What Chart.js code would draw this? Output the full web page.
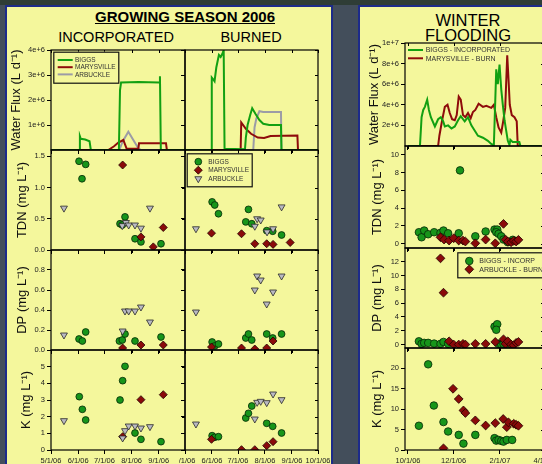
<!DOCTYPE html>
<html>
<head>
<meta charset="utf-8">
<script src="https://cdn.jsdelivr.net/npm/chart.js@4.4.1/dist/chart.umd.min.js"></script>
<style>
  body { margin: 0; width: 542px; height: 464px; overflow: hidden; position: relative;
         background: #434e5b; font-family: "Liberation Sans", Arial, sans-serif; }
  .strip { position: absolute; left: 0; top: 0; width: 542px; height: 5px; background: #2f3d36; }
  .panel { position: absolute; background: #f4f79c; border: 2px solid #1d2b8a; }
  .t { position: absolute; text-align: center; white-space: nowrap; color: #000; line-height: 1; }
  canvas { position: absolute; }
</style>
</head>
<body>
<div class="strip"></div>
<div class="panel" style="left:5px;top:5px;width:324px;height:470px"></div>
<div class="panel" style="left:358px;top:5px;width:200px;height:470px"></div>

<div class="t" style="left:85px;top:9px;width:200px;font-size:15px;font-weight:bold;text-decoration:underline">GROWING SEASON 2006</div>
<div class="t" style="left:46px;top:30px;width:140px;font-size:14.5px">INCORPORATED</div>
<div class="t" style="left:191px;top:30px;width:120px;font-size:14.5px">BURNED</div>
<div class="t" style="left:408px;top:12px;width:120px;font-size:16.5px">WINTER</div>
<div class="t" style="left:408px;top:27px;width:120px;font-size:16.5px">FLOODING</div>

<script>
// ---- axes ----
const gsMonthDays = [0, 31, 61, 92, 123, 153];          // days since 5/1/06
const gsMonthLabels = ["5/1/06", "6/1/06", "7/1/06", "8/1/06", "9/1/06", "10/1/06"];
const wfMonthDays = [0, 61, 123, 182];                  // days since 10/1/06
const wfMonthLabels = ["10/1/06", "12/1/06", "2/1/07", "4/1/07"];

const fluxTicksGS = [1e6, 2e6, 3e6, 4e6];
const tdnTicksGS = [0, 0.5, 1.0, 1.5];
const dpTicksGS = [0, 0.2, 0.4, 0.6, 0.8];
const kTicksGS = [0, 1, 2, 3, 4, 5];
const fluxTicksWF = [2e6, 4e6, 6e6, 8e6, 1e7];
const tdnTicksWF = [0, 2, 4, 6, 8, 10];
const dpTicksWF = [0, 2, 4, 6, 8, 10, 12];
const kTicksWF = [0, 5, 10, 15, 20];

// ---- growing season, incorporated: [day, value] ----
const incBiggsFlux = [[0,0],[32,0],[33,0.55e6],[34,0.45e6],[39,0.42e6],[44,0.35e6],[45.5,0],[77.5,0],[78.8,2.4e6],[80,2.7e6],[100,2.72e6],[123.5,2.7e6],[124.4,2.95e6],[125.4,0],[153,0]];
const incMarysFlux = [[0,0],[65.4,0],[72,0.15e6],[76.9,0.3e6],[82.6,0.4e6],[86.4,0.05e6],[99.7,0.05e6],[100.5,0.27e6],[131.3,0.27e6],[132.3,0],[153,0]];
const incArbFlux = [[0,0],[78,0],[82,0.35e6],[88.3,0.73e6],[94,0.4e6],[99.7,0.07e6],[103,0],[153,0]];

const incBiggsTdn = [[32,1.42],[39.6,1.37],[35.4,1.14],[84.5,0.53],[78.8,0.42],[81.4,0.40],[95.9,0.18],[102.7,0.13],[125.6,0.10]];
const incMarysTdn = [[81.8,1.36],[102.7,0.21],[116.8,0.05],[128.2,0.36]];
const incArbTdn = [[14.8,0.67],[81.4,0.39],[85.6,0.44],[88.7,0.40],[95.9,0.40],[102.7,0.35],[113,0.67]];

const incBiggsDp = [[32,0.11],[35.8,0.09],[39.6,0.18],[78.1,0.09],[81.4,0.10],[84.5,0.16],[95.9,0.09],[125.6,0.13]];
const incMarysDp = [[81.8,0.02],[102.7,0.05],[128.2,0.05]];
const incArbDp = [[14.8,0.15],[81.8,0.19],[84.5,0.39],[88.7,0.39],[95.9,0.39],[102.7,0.43],[113,0.28]];

const incBiggsK = [[32.3,3.2],[35.8,2.44],[39.6,1.8],[78.8,3.0],[81.8,4.16],[84.5,5.02],[95.9,1.02],[102.7,0.64],[125.6,0.5]];
const incMarysK = [[81.8,0.8],[102.7,3.02],[128.2,3.32]];
const incArbK = [[14.8,1.76],[81.8,0.72],[84.5,1.16],[88.7,1.44],[95.9,1.44],[102.7,1.32],[113,1.4]];

// ---- growing season, burned ----
const burBiggsFlux = [[0,0],[30,0],[30.8,2.9e6],[32,2.85e6],[34,2.75e6],[36,3.3e6],[39,3.8e6],[41,3.72e6],[43,3.85e6],[44.5,4.0e6],[45.5,0.05e6],[69,0.03e6],[70,0.5e6],[72,1.0e6],[75,1.4e6],[77.3,1.67e6],[81,1.45e6],[85.6,1.2e6],[90,1.05e6],[97,1.0e6],[110.4,1.0e6],[111,0],[153,0]];
const burMarysFlux = [[0,0],[64,0],[64.7,1.1e6],[70,0.85e6],[76,0.65e6],[83.7,0.5e6],[91,0.48e6],[98.4,0.56e6],[129.3,0.58e6],[130,0],[153,0]];
const burArbFlux = [[0,0],[78.5,0],[80,0.9e6],[82,1.25e6],[85.6,1.55e6],[90,1.52e6],[110.4,1.52e6],[111,0],[153,0]];

const burBiggsTdn = [[31.2,0.77],[34.2,0.72],[38.5,0.58],[73,0.65],[69.9,0.45],[76.8,0.42],[94,0.31],[100.9,0.30],[111.1,0.24]];
const burMarysTdn = [[30.5,0.27],[65,0.26],[80.3,0.10],[94,0.10],[101.3,0.09],[121,0.12]];
const burArbTdn = [[12.6,0.34],[83,0.50],[87.1,0.48],[80.3,0.38],[94.4,0.29],[101.3,0.34],[111.1,0.69]];

const burBiggsDp = [[31.2,0.08],[34.2,0.04],[38.5,0.06],[69.9,0.12],[73,0.16],[76.8,0.10],[94,0.16],[100.9,0.12],[111.1,0.16]];
const burMarysDp = [[30.5,0.03],[65,0.02],[80.3,0.01],[94,0.02],[101.3,0.09]];
const burArbDp = [[12.6,0.38],[83,0.74],[87.1,0.70],[80.3,0.60],[101.3,0.58],[94,0.46],[111.1,0.74]];

const burBiggsK = [[31.2,0.86],[34.2,0.76],[38.5,0.8],[69.9,1.92],[73,2.2],[76.8,2.64],[94,1.6],[100.9,1.42],[111.1,1.02]];
const burMarysK = [[30.5,0.64],[65,0.02],[80.3,0.02],[94,0.26],[101.3,0.5]];
const burArbK = [[12.6,1.56],[80.3,1.86],[83,2.86],[87.1,2.92],[94,2.84],[101.3,3.36],[111.1,3.02]];

// ---- winter flooding: days since 10/1/06 ----
const wfBiggsFlux = [[0,0],[16,0],[18.2,2.8e6],[20.4,3.5e6],[22.6,3.8e6],[25.7,4.5e6],[28,3.5e6],[30.6,2.8e6],[36,1.9e6],[40.3,2.6e6],[43.9,2.8e6],[47,2.4e6],[49.3,1.9e6],[53.7,2.0e6],[58.2,1.7e6],[62.6,1.9e6],[67,2.5e6],[70.6,2.9e6],[75.9,2.4e6],[80.3,2.8e6],[84.8,2.0e6],[89.2,1.5e6],[93.6,1.0e6],[100.3,0.8e6],[106.9,0.5e6],[111.4,0.2e6],[114.9,0.05e6],[118.1,7.45e6],[120.2,6.0e6],[122.5,7.9e6],[124.8,5.5e6],[126.9,4.0e6],[129.2,2.5e6],[131.4,1.5e6],[133.6,0.5e6],[135.8,0.1e6],[137,0.6e6],[140,0.4e6],[149,0.4e6],[150.5,0],[182,0]];
const wfMarysFlux = [[0,0],[40.3,0],[42,1.0e6],[45.7,2.5e6],[49.3,3.8e6],[52.9,4.0e6],[55.9,3.2e6],[59,2.6e6],[62.6,2.5e6],[65.2,3.0e6],[67.9,4.8e6],[70.6,4.5e6],[73.6,3.0e6],[76.8,2.8e6],[80.3,3.2e6],[83.9,2.7e6],[86.9,3.3e6],[90.1,3.5e6],[94.5,4.1e6],[100.3,3.8e6],[104.8,3.9e6],[111.4,3.7e6],[114.9,4.0e6],[118.1,2.8e6],[121.2,1.8e6],[124.8,1.3e6],[127.4,2.4e6],[130.1,3.7e6],[132.8,8.8e6],[134.5,6.5e6],[136.2,4.0e6],[138.9,3.0e6],[142.5,2.8e6],[145.5,2.4e6],[146.9,0],[182,0]];

const wfBiggsTdn = [[14.6,1.28],[18.2,0.71],[21.7,1.47],[27,1.05],[35,1.28],[43.5,1.21],[47.5,1.47],[53.7,1.16],[67.9,1.16],[69.6,8.25],[90.1,0.82],[103.9,1.36],[115.8,1.58],[119.4,1.58],[118.1,1.28],[121.2,1.1],[124.8,0.82],[127.8,0.45],[133.6,0.15],[140.2,0.42]];
const wfArbTdn = [[43.5,0.71],[48.3,0.45],[55,0.34],[61.2,0.6],[67.9,0.34],[73.6,0.34],[76.8,0.23],[90.1,0.03],[103.9,0.45],[116.8,0.03],[127.8,2.22],[130.5,0.45],[133.6,0.23],[138.1,0.15],[141.5,0.3],[144.7,0.23],[147.8,0.42]];

const wfBiggsDp = [[14.6,0.47],[18.2,0.1],[21.7,0.24],[27,0.24],[35,0.14],[43.5,0.1],[47.5,0.38],[53.7,0.1],[115.8,2.6],[119.4,2.95],[118.1,2.14],[121.2,0.1],[124.8,0.0],[127.8,0.1],[133.6,0.0]];
const wfArbDp = [[43.5,12.5],[47.5,7.52],[55,0.47],[61.2,0.0],[67.9,0.0],[73.6,0.1],[76.8,0.0],[90.1,0.1],[103.9,0.1],[116.8,0.38],[127.8,0.76],[130.5,0.1],[133.6,0.47],[138.1,0.0],[141.5,-0.1],[144.7,0.24],[147.8,0.38]];

const wfBiggsK = [[14.6,5.94],[27,21.0],[34.6,10.9],[47.5,6.85],[53.7,4.54],[67.9,3.7],[74.2,1.57],[90.1,3.7],[115.8,2.9],[118.1,2.3],[121.2,2.47],[124.8,2.23],[127.8,2.06],[132.2,2.47],[139.4,2.47]];
const wfArbK = [[47.5,0.41],[60.3,15.0],[67.9,12.5],[74.2,9.7],[76.8,9.07],[90.1,7.26],[103.9,6.0],[116.8,6.6],[127.4,7.6],[132.2,5.6],[134.5,6.76],[141.5,6.43],[144.7,6.19],[147.8,5.94]];

// ---- styles ----
const GREEN = "#12a012", RED = "#8e0b0b", GRAY = "#9c9ca6";
const FONT = '"Liberation Sans", Arial, sans-serif';
Chart.defaults.font.family = FONT;

const pts = a => a.map(([x, y]) => ({ x, y }));
const lineDs = (label, data, color) => ({
  label, data: pts(data), showLine: true, borderColor: color, borderWidth: 2,
  pointRadius: 0, tension: 0
});
const circleDs = (label, data, r = 3.4) => ({
  label, data: pts(data), pointStyle: "circle", pointRadius: r,
  backgroundColor: "#17951a", borderColor: "#062806", borderWidth: 0.8, order: 3
});
const diamondDs = (label, data, r = 4) => ({
  label, data: pts(data), pointStyle: "rectRot", pointRadius: r,
  backgroundColor: "#8a0a0a", borderColor: "#220000", borderWidth: 0.8, order: 2
});
const triDs = (label, data) => ({
  label, data: pts(data), pointStyle: "triangle", pointRotation: 180, pointRadius: 4,
  backgroundColor: "#b9b9c2", borderColor: "#2a2a2a", borderWidth: 0.8, order: 1
});

const fmtExp = v => v.toExponential(0);
const fmt1 = v => v.toFixed(1);
const fmt0 = v => String(v);

// plot frame + small inward ticks on right / top edges
const frame = {
  id: "frame",
  afterDraw(chart) {
    const { ctx, chartArea: a, scales } = chart;
    ctx.save();
    ctx.strokeStyle = "#000";
    ctx.lineWidth = 1;
    ctx.beginPath();
    scales.y.ticks.forEach(t => {
      const py = Math.round(scales.y.getPixelForValue(t.value)) + 0.5;
      ctx.moveTo(a.right, py); ctx.lineTo(a.right - 3, py);
    });
    scales.x.ticks.forEach(t => {
      const px = Math.round(scales.x.getPixelForValue(t.value)) + 0.5;
      ctx.moveTo(px, a.top); ctx.lineTo(px, a.top + 3);
    });
    ctx.stroke();
    ctx.lineWidth = 1.2;
    ctx.strokeRect(a.left, a.top, a.right - a.left, a.bottom - a.top);
    ctx.restore();
  }
};

// legend drawn inside the plot, as in the original figure
const boxLegend = {
  id: "boxLegend",
  afterDraw(chart, args, o) {
    if (!o || !o.show) return;
    const { ctx, chartArea: a } = chart;
    const x0 = a.left + o.x, y0 = a.top + o.y;
    ctx.save();
    if (o.box) {
      ctx.fillStyle = "#f4f79c";
      ctx.fillRect(x0, y0, o.w, o.h);
      ctx.strokeStyle = "#111";
      ctx.lineWidth = 1.2;
      ctx.strokeRect(x0 + 0.5, y0 + 0.5, o.w, o.h);
    }
    ctx.font = o.size + "px " + FONT;
    ctx.textBaseline = "middle";
    chart.data.datasets.forEach((d, i) => {
      const cy = y0 + o.first + i * o.step;
      if (d.showLine) {
        ctx.strokeStyle = d.borderColor;
        ctx.lineWidth = 2;
        ctx.beginPath();
        ctx.moveTo(x0 + o.mx, cy); ctx.lineTo(x0 + o.mx + o.len, cy);
        ctx.stroke();
      } else {
        ctx.fillStyle = d.backgroundColor;
        ctx.strokeStyle = d.borderColor;
        ctx.lineWidth = d.borderWidth;
        Chart.helpers.drawPoint(ctx, { pointStyle: d.pointStyle, radius: d.pointRadius,
          rotation: d.pointRotation || 0, borderWidth: d.borderWidth }, x0 + o.mx, cy);
      }
      ctx.fillStyle = "#333";
      ctx.fillText(d.label, x0 + o.tx, cy + 0.5);
    });
    ctx.restore();
  }
};

function makeChart(o) {
  const T = 6, R = o.right, L = o.left, B = o.bottom;
  const w = L + o.w + R, h = T + o.h + B;
  const cv = document.createElement("canvas");
  cv.width = w; cv.height = h;
  cv.style.width = w + "px"; cv.style.height = h + "px";
  cv.style.left = (o.x - L) + "px"; cv.style.top = (o.y - T) + "px";
  document.body.appendChild(cv);

  new Chart(cv, {
    type: "scatter",
    data: { datasets: o.datasets },
    options: {
      responsive: false,
      animation: false,
      devicePixelRatio: 1,
      layout: { autoPadding: false, padding: { left: 0, top: T, right: R, bottom: 0 } },
      plugins: {
        legend: { display: false },
        tooltip: { enabled: false },
        boxLegend: o.legend || { show: false }
      },
      scales: {
        x: {
          type: "linear", min: o.xMin, max: o.xMax,
          afterBuildTicks: s => { s.ticks = o.xTicks.map(v => ({ value: v })); },
          afterFit: s => { s.height = B; s.paddingLeft = 0; s.paddingRight = 0; },
          ticks: {
            display: !!o.xLabels, autoSkip: false, maxRotation: 0, padding: 2,
            font: { size: 7.5 }, color: "#222",
            callback: (v, i) => (o.xLabels ? o.xLabels[i] : "")
          },
          grid: { drawOnChartArea: false, tickLength: 4, color: "#000" },
          border: { display: false }
        },
        y: {
          type: "linear", min: o.yMin, max: o.yMax,
          afterBuildTicks: s => { s.ticks = o.yTicks.map(v => ({ value: v })); },
          afterFit: s => { s.width = L; s.paddingTop = 0; s.paddingBottom = 0; },
          ticks: { display: !!o.yFmt, padding: 2, font: { size: 7.5 }, color: "#222",
                   callback: v => (o.yFmt ? o.yFmt(v) : "") },
          grid: { drawOnChartArea: false, tickLength: 4, color: "#000" },
          border: { display: false },
          title: o.yTitle
            ? { display: true, text: o.yTitle, font: { size: 13 }, color: "#111",
                padding: { top: o.titlePad, bottom: 0 } }
            : { display: false }
        }
      }
    },
    plugins: [frame, boxLegend]
  });
}

// ---- layout of the plot boxes ----
const gsCols = [{ x: 51, w: 134, left: 43 }, { x: 185, w: 133, left: 6 }];
const gsRows = [{ y: 50, h: 100 }, { y: 150, h: 100 }, { y: 250, h: 100 }, { y: 350, h: 100 }];

const gsPanels = [
  // incorporated
  [
    { datasets: [lineDs("BIGGS", incBiggsFlux, GREEN), lineDs("MARYSVILLE", incMarysFlux, RED), lineDs("ARBUCKLE", incArbFlux, GRAY)],
      yMin: 0, yMax: 4e6, yTicks: fluxTicksGS, yFmt: fmtExp, yTitle: "Water Flux (L d\u207B\u00B9)", titlePad: 1,
      legend: { show: true, box: true, x: 2.3, y: 1.7, w: 65, h: 31, first: 8.3, step: 7.2, mx: 4.4, len: 15, tx: 21.7, size: 6.5 } },
    { datasets: [circleDs("BIGGS", incBiggsTdn), diamondDs("MARYSVILLE", incMarysTdn), triDs("ARBUCKLE", incArbTdn)],
      yMin: 0, yMax: 1.6, yTicks: tdnTicksGS, yFmt: fmt1, yTitle: "TDN (mg L\u207B\u00B9)", titlePad: 7 },
    { datasets: [circleDs("BIGGS", incBiggsDp), diamondDs("MARYSVILLE", incMarysDp), triDs("ARBUCKLE", incArbDp)],
      yMin: 0, yMax: 1.0, yTicks: dpTicksGS, yFmt: fmt1, yTitle: "DP (mg L\u207B\u00B9)", titlePad: 7 },
    { datasets: [circleDs("BIGGS", incBiggsK), diamondDs("MARYSVILLE", incMarysK), triDs("ARBUCKLE", incArbK)],
      yMin: 0, yMax: 6, yTicks: kTicksGS, yFmt: fmt0, yTitle: "K (mg L\u207B\u00B9)", titlePad: 11,
      xLabels: gsMonthLabels.map((l, i) => (i === gsMonthLabels.length - 1 ? "" : l)) }
  ],
  // burned
  [
    { datasets: [lineDs("BIGGS", burBiggsFlux, GREEN), lineDs("MARYSVILLE", burMarysFlux, RED), lineDs("ARBUCKLE", burArbFlux, GRAY)],
      yMin: 0, yMax: 4e6, yTicks: fluxTicksGS },
    { datasets: [circleDs("BIGGS", burBiggsTdn), diamondDs("MARYSVILLE", burMarysTdn), triDs("ARBUCKLE", burArbTdn)],
      yMin: 0, yMax: 1.6, yTicks: tdnTicksGS,
      legend: { show: true, box: true, x: 1.7, y: 3.3, w: 65, h: 33, first: 8.4, step: 8.5, mx: 11.6, tx: 21.6, size: 6.5 } },
    { datasets: [circleDs("BIGGS", burBiggsDp), diamondDs("MARYSVILLE", burMarysDp), triDs("ARBUCKLE", burArbDp)],
      yMin: 0, yMax: 1.0, yTicks: dpTicksGS },
    { datasets: [circleDs("BIGGS", burBiggsK), diamondDs("MARYSVILLE", burMarysK), triDs("ARBUCKLE", burArbK)],
      yMin: 0, yMax: 6, yTicks: kTicksGS, xLabels: gsMonthLabels }
  ]
];

gsPanels.forEach((col, c) => col.forEach((p, r) => {
  makeChart(Object.assign({
    x: gsCols[c].x, w: gsCols[c].w, left: gsCols[c].left, right: 16,
    y: gsRows[r].y, h: gsRows[r].h, bottom: r === 3 ? 16 : 5,
    xMin: 0, xMax: 153, xTicks: gsMonthDays
  }, p));
}));

const wfRows = [{ y: 43, h: 103 }, { y: 146, h: 102 }, { y: 248, h: 100 }, { y: 348, h: 102 }];
const wfPanels = [
  { datasets: [lineDs("BIGGS - INCORPORATED", wfBiggsFlux, GREEN), lineDs("MARYSVILLE - BURN", wfMarysFlux, RED)],
    yMin: 0, yMax: 1e7, yTicks: fluxTicksWF, yFmt: fmtExp, yTitle: "Water Flux (L d\u207B\u00B9)", titlePad: 5,
    legend: { show: true, box: false, x: 0, y: 0, first: 7, step: 8.3, mx: 3, len: 15, tx: 20.7, size: 7 } },
  { datasets: [circleDs("BIGGS - INCORP", wfBiggsTdn, 3.8), diamondDs("ARBUCKLE - BURN", wfArbTdn, 4.4)],
    yMin: -0.5, yMax: 11, yTicks: tdnTicksWF, yFmt: fmt0, yTitle: "TDN (mg L\u207B\u00B9)", titlePad: 8 },
  { datasets: [circleDs("BIGGS - INCORP", wfBiggsDp, 3.8), diamondDs("ARBUCKLE - BURN", wfArbDp, 4.4)],
    yMin: -0.5, yMax: 14, yTicks: dpTicksWF, yFmt: fmt0, yTitle: "DP (mg L\u207B\u00B9)", titlePad: 8,
    legend: { show: true, box: true, x: 52.3, y: 4.3, w: 95, h: 25, first: 8.7, step: 8.3, mx: 12, tx: 22, size: 7 } },
  { datasets: [circleDs("BIGGS - INCORP", wfBiggsK, 3.8), diamondDs("ARBUCKLE - BURN", wfArbK, 4.4)],
    yMin: 0, yMax: 25, yTicks: kTicksWF, yFmt: fmt0, yTitle: "K (mg L\u207B\u00B9)", titlePad: 8,
    xLabels: wfMonthLabels }
];

wfPanels.forEach((p, r) => {
  makeChart(Object.assign({
    x: 405, w: 139, left: 43, right: 6,
    y: wfRows[r].y, h: wfRows[r].h, bottom: r === 3 ? 16 : 5,
    xMin: -4, xMax: 182, xTicks: wfMonthDays
  }, p));
});
</script>
</body>
</html>
